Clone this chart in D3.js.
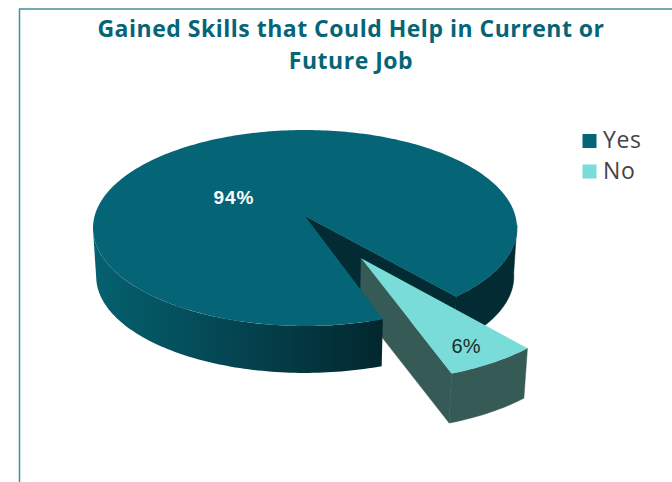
<!DOCTYPE html>
<html>
<head>
<meta charset="utf-8">
<script src="https://cdn.jsdelivr.net/npm/d3@7"></script>
<style>
  html, body { margin: 0; padding: 0; background: #fff; overflow: hidden; }
  svg { display: block; }
</style>
</head>
<body>
<svg id="chart" width="672" height="482"></svg>
<script>
const categories = ["Yes", "No"];
const values = [94, 6];
const valueLabels = ["94%", "6%"];
const titleLines = ["Gained Skills that Could Help in Current or", "Future Job"];

const topColors = ["#056577", "#7adcd8"];
const sideColors = ["#022b33", "#365a56"];

const w = 672, h = 482;
const svg = d3.select("#chart");

// frame round the chart
svg.append("path")
  .attr("d", d3.line()([[19.5, h], [19.5, 9], [w, 9]]))
  .attr("fill", "none")
  .attr("stroke", "#448f9c")
  .attr("stroke-width", 1.5);

svg.selectAll(".title")
  .data(titleLines)
  .join("text")
    .attr("class", "title")
    .attr("x", 351)
    .attr("y", (d, i) => 37 + i * 32)
    .attr("text-anchor", "middle")
    .attr("font-family", "'Open Sans'")
    .attr("font-weight", 700)
    .attr("font-size", 23)
    .attr("letter-spacing", 0.5)
    .attr("fill", "#056577")
    .text(d => d);

// angles, 0 at 12 o'clock in d3, so the plane angle is a - 90deg
const start = 160.9 * Math.PI / 180;
const arcs = d3.pie().sort(null).startAngle(start).endAngle(start + 2 * Math.PI)(values);

// perspective projection of the pie plane, level 0 = top face, 1 = bottom face
const cx = 305, cy = 216, k = 0.1224, a = 96.5, b = 210.4;
const depth = 48.6, shrink = 0.015;
function project(u, v, level) {
  const d = 1 - k * v;
  const s = 1 - shrink * level;
  return [cx + s * b * u / d, cy + depth * level + s * a * v / d];
}
const onRim = (t, off, level) => project(Math.cos(t - Math.PI / 2) + off[0], Math.sin(t - Math.PI / 2) + off[1], level);
const line = d3.line();

function rim(t0, t1, off, level) {
  const n = Math.ceil(Math.abs(t1 - t0) / 0.02);
  return d3.range(n + 1).map(i => onRim(t0 + (t1 - t0) * i / n, off, level));
}
const topPath = (arc, off) => line([project(off[0], off[1], 0), ...rim(arc.startAngle, arc.endAngle, off, 0)]) + "Z";
const band = (t0, t1, off, level) => line([...rim(t0, t1, off, 0), ...rim(t1, t0, off, level)]) + "Z";
const face = (t, off, level) => line([project(off[0], off[1], 0), onRim(t, off, 0), onRim(t, off, level), project(off[0], off[1], level)]) + "Z";

const grad = svg.append("defs").append("linearGradient").attr("id", "sideGrad");
grad.append("stop").attr("offset", "0%").attr("stop-color", "#05616f");
grad.append("stop").attr("offset", "40%").attr("stop-color", "#044a56");
grad.append("stop").attr("offset", "100%").attr("stop-color", "#02272e");

const noOff = [0, 0];
const yes = arcs[0], no = arcs[1];
const noMid = (no.startAngle + no.endAngle) / 2 - Math.PI / 2 - 0.025;
const explode = [0.487 * Math.cos(noMid), 0.487 * Math.sin(noMid)];
const noLevel = 1.07; // exploded slice reads a little taller

// back of the big slice: rim on the right and the inner cut
svg.append("path").attr("d", band(yes.endAngle - 0.77, yes.endAngle, noOff, 1))
  .attr("fill", sideColors[0]).attr("stroke", sideColors[0]).attr("stroke-width", 0.5);
svg.append("path").attr("d", face(yes.endAngle, noOff, 1))
  .attr("fill", sideColors[0]).attr("stroke", sideColors[0]).attr("stroke-width", 0.5);

// exploded slice side
svg.append("path").attr("d", band(no.startAngle, no.endAngle, explode, noLevel))
  .attr("fill", sideColors[1]).attr("stroke", sideColors[1]).attr("stroke-width", 0.5);
svg.append("path").attr("d", face(no.endAngle, explode, noLevel))
  .attr("fill", sideColors[1]).attr("stroke", sideColors[1]).attr("stroke-width", 0.5);

// front of the big slice
svg.append("path").attr("d", band(yes.startAngle, yes.startAngle + 1.765, noOff, 1)).attr("fill", "url(#sideGrad)");
svg.append("path").attr("d", topPath(yes, noOff)).attr("fill", topColors[0]);

svg.append("path").attr("d", topPath(no, explode)).attr("fill", topColors[1]);

// value labels
svg.append("text")
  .attr("x", 234).attr("y", 204)
  .attr("text-anchor", "middle")
  .attr("font-family", "'Liberation Sans'")
  .attr("font-weight", 700)
  .attr("font-size", 19)
  .attr("letter-spacing", 1)
  .attr("fill", "#fff")
  .text(valueLabels[0]);
svg.append("text")
  .attr("x", 466).attr("y", 353)
  .attr("text-anchor", "middle")
  .attr("font-family", "'Liberation Sans'")
  .attr("font-size", 20)
  .attr("fill", "#1c2a2a")
  .text(valueLabels[1]);

// legend
const legendY = d3.scalePoint().domain(categories).range([141, 171.5]);
const legend = svg.selectAll(".legend")
  .data(categories)
  .join("g")
    .attr("class", "legend")
    .attr("transform", d => `translate(582.5, ${legendY(d)})`);
legend.append("rect")
  .attr("y", -7).attr("width", 14).attr("height", 14)
  .attr("fill", (d, i) => topColors[i]);
legend.append("text")
  .attr("x", 20.5).attr("y", 7)
  .attr("font-family", "'Open Sans'")
  .attr("font-size", 23)
  .attr("letter-spacing", 0.6)
  .attr("fill", "#444")
  .text(d => d);
</script>
</body>
</html>
